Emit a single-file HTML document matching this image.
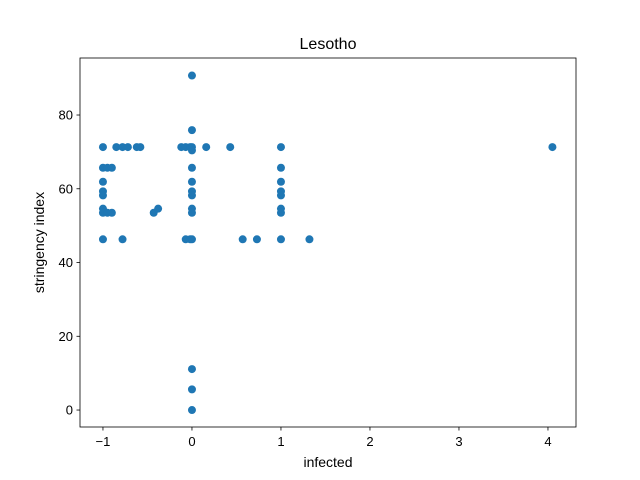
<!DOCTYPE html>
<html><head><meta charset="utf-8"><style>
body{margin:0;background:#fff;}
svg{display:block;font-family:"Liberation Sans","DejaVu Sans",sans-serif;}
</style></head><body>
<svg id="chart" width="640" height="480"></svg>
<script>
const xs=[-1,-1,-1,-1,-1,-1,-1,-1,-0.95,-0.95,-0.9,-0.9,-0.85,-0.78,-0.78,-0.72,-0.62,-0.58,-0.43,-0.38,-0.12,-0.07,-0.07,-0.02,-0.02,
0,0,0,0,0,0,0,0,0,0,0,0,0,0,0.16,0.43,0.57,0.73,1,1,1,1,1,1,1,1,1.32,4.05];
const ys=[71.3,65.7,61.9,59.3,58.2,54.6,53.5,46.3,65.7,53.5,65.7,53.5,71.3,71.3,46.3,71.3,71.3,71.3,53.5,54.6,71.3,71.3,46.3,71.3,46.3,
90.7,75.9,71.3,70.4,65.7,61.9,59.3,58.2,54.6,53.5,46.3,11.1,5.6,0,71.3,71.3,46.3,46.3,71.3,65.7,61.9,59.3,58.2,54.6,53.5,46.3,46.3,71.3];
const xTicks=[-1,0,1,2,3,4];
const yTicks=[0,20,40,60,80];
const L=80,R=576,T=58,B=427;
const xmin=-1.258,xmax=4.315,ymin=-4.6,ymax=95.46;
const X=v=>L+(v-xmin)/(xmax-xmin)*(R-L);
const Y=v=>B-(v-ymin)/(ymax-ymin)*(B-T);
const svg=document.getElementById('chart');
const NS='http://www.w3.org/2000/svg';
function mk(tag,attrs,parent){const e=document.createElementNS(NS,tag);for(const k in attrs)e.setAttribute(k,attrs[k]);(parent||svg).appendChild(e);return e;}
const pts=mk('g',{});


xs.forEach((x,i)=>{const c=mk('circle',{cx:X(x),cy:Y(ys[i]),r:4,fill:'#1f77b4'},pts);

});
const frame=mk('rect',{x:L,y:T,width:R-L,height:B-T,fill:'none',stroke:'#000','stroke-width':0.8});


xTicks.forEach(t=>{const x=X(t);mk('line',{x1:x,x2:x,y1:B,y2:B+3.5,stroke:'#000','stroke-width':0.8});
const tx=mk('text',{x:x,y:B+19,'font-size':13,'text-anchor':'middle'});tx.textContent=t<0?'\u2212'+(-t):t;

});
yTicks.forEach(t=>{const y=Y(t);mk('line',{x1:L-3.5,x2:L,y1:y,y2:y,stroke:'#000','stroke-width':0.8});
const tx=mk('text',{x:L-7,y:y+4.5,'font-size':13,'text-anchor':'end'});tx.textContent=t;

});
const xl=mk('text',{x:(L+R)/2,y:467,'font-size':14,'text-anchor':'middle'});xl.textContent='infected';


const yl=mk('text',{x:0,y:0,'font-size':14,'text-anchor':'middle',transform:`translate(44,${(T+B)/2}) rotate(-90)`});yl.textContent='stringency index';


const ti=mk('text',{x:(L+R)/2,y:49,'font-size':16,'text-anchor':'middle'});ti.textContent='Lesotho';


</script>
</body></html>
